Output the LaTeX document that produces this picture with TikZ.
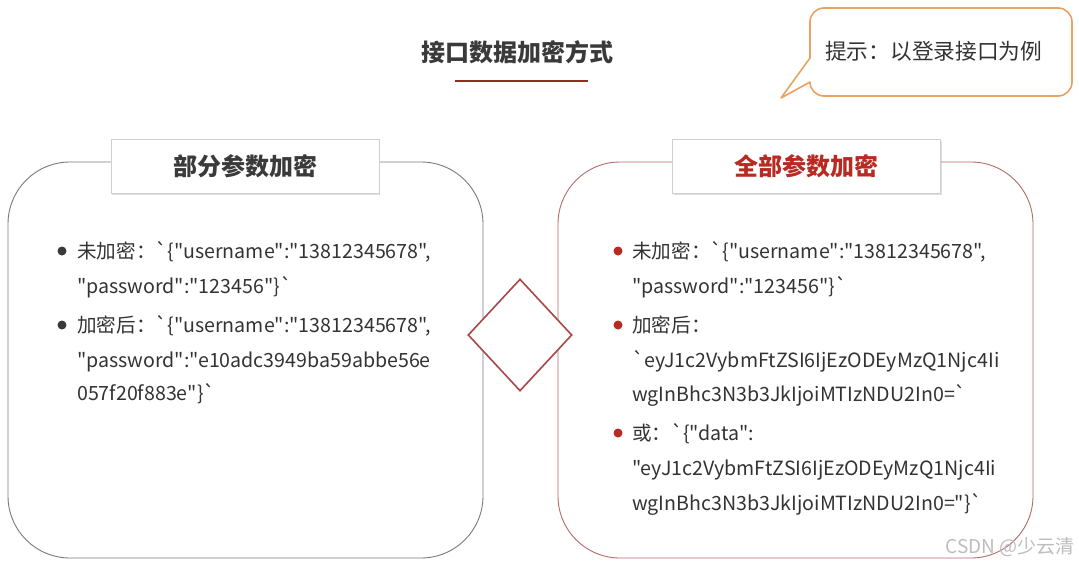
\documentclass[tikz,border=0pt]{standalone}
\usepackage{fontspec}
\newfontfamily\cjk{Noto Sans CJK SC}
\usetikzlibrary{shapes.geometric,shadows}
\definecolor{txt}{HTML}{333333}
\definecolor{headtxt}{HTML}{3A3A3A}
\definecolor{redtxt}{HTML}{B82A22}
\definecolor{leftline}{HTML}{7A7A7A}
\definecolor{rightline}{HTML}{B56A6A}
\definecolor{diamondc}{HTML}{A84848}
\definecolor{ulc}{HTML}{8E2F22}
\definecolor{calloutc}{HTML}{E9A263}
\definecolor{tboxline}{HTML}{CFCFCF}
\definecolor{wm}{HTML}{BDBDBD}
\tikzset{
  panel/.style={draw, line width=0.9pt, rounded corners=62pt, minimum width=475pt, minimum height=396pt, inner sep=0pt},
  tbox/.style={draw=tboxline, fill=white, line width=0.8pt, minimum width=268pt, minimum height=54pt, inner sep=0pt,
     drop shadow={shadow xshift=1pt, shadow yshift=-1.5pt, opacity=0.25}},
  ttext/.style={font=\cjk\bfseries\fontsize{24}{24}\selectfont},
  btext/.style={font=\cjk\fontsize{19.6}{19.6}\selectfont, text=txt, anchor=base west, inner sep=0pt},
  dot/.style={circle, inner sep=0pt, minimum size=9pt},
}
\begin{document}
\begin{tikzpicture}[x=1pt,y=-1pt]
\useasboundingbox[fill=white] (0,0) rectangle (1079,565);

% heading
\node[ttext, text=headtxt] (head) at (517,52) {接口数据加密方式};
\coordinate (ul1) at (455,81);
\coordinate (ul2) at (588,81);
\draw[ulc, line width=1.3pt] (ul1) -- (ul2);

% callout
\draw[calloutc, line width=1.6pt, fill=white, line join=round]
  (810,58) -- (781,98) -- (810,82)
  {[rounded corners=14pt] -- (810,96) -- (1072,96) -- (1072,8) -- (810,8) -- (810,40)} -- cycle;
\node[font=\cjk\fontsize{21.7}{21.7}\selectfont, text=txt, anchor=west, inner sep=0pt] (hint) at (825,51) {提示：以登录接口为例};

% panels
\node[panel, draw=leftline] (lpanel) at (245.5,360) {};
\node[panel, draw=rightline] (rpanel) at (795.5,360) {};

\node[tbox] (ltitle) at (245,166) {};
\node[ttext, text=headtxt] (ltitletext) at (ltitle) {部分参数加密};
\node[tbox] (rtitle) at (806.5,166) {};
\node[ttext, text=redtxt] (rtitletext) at (rtitle) {全部参数加密};

% diamond
\node[diamond, draw=diamondc, line width=1.6pt, fill=white, minimum width=104pt, minimum height=112pt, inner sep=0pt] (dia) at (520,335) {};

% left bullets
\node[dot, fill=headtxt] (lb1) at (62,251) {};
\node[btext] (l1) at (77,258) {未加密：`\{"username":"13812345678",};
\node[btext] (l2) at (77,293) {"password":"123456"\}`};
\node[dot, fill=headtxt] (lb2) at (62,325) {};
\node[btext] (l3) at (77,332) {加密后：`\{"username":"13812345678",};
\node[btext] (l4) at (77,367) {"password":"e10adc3949ba59abbe56e};
\node[btext] (l5) at (77,400) {057f20f883e"\}`};

% right bullets
\node[dot, fill=redtxt] (rb1) at (618,251) {};
\node[btext] (r1) at (632,258) {未加密：`\{"username":"13812345678",};
\node[btext] (r2) at (632,293) {"password":"123456"\}`};
\node[dot, fill=redtxt] (rb2) at (618,325) {};
\node[btext] (r3) at (632,332) {加密后：};
\node[btext] (r4) at (632,367) {`eyJ1c2VybmFtZSI6IjEzODEyMzQ1Njc4Ii};
\node[btext] (r5) at (632,401) {wgInBhc3N3b3JkIjoiMTIzNDU2In0=`};
\node[dot, fill=redtxt] (rb3) at (618,433) {};
\node[btext] (r6) at (632,440) {或：`\{"data":};
\node[btext] (r7) at (632,475) {"eyJ1c2VybmFtZSI6IjEzODEyMzQ1Njc4Ii};
\node[btext] (r8) at (632,510) {wgInBhc3N3b3JkIjoiMTIzNDU2In0="\}`};

% watermark
\node[font=\cjk\fontsize{19}{19}\selectfont, text=wm, anchor=east, inner sep=0pt] (wmark) at (1075,547) {CSDN @少云清};
\end{tikzpicture}
\end{document}
